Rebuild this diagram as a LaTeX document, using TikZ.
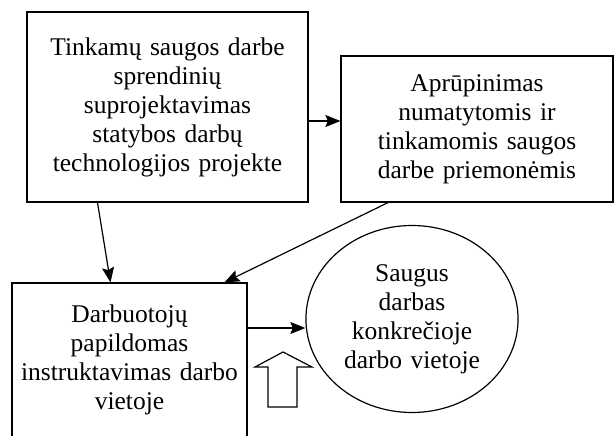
\documentclass[tikz,border=0pt]{standalone}
\usepackage{fontspec}
\setmainfont{Liberation Serif}
\usetikzlibrary{positioning, arrows.meta, shapes.geometric}
\tikzset{
  saugbox/.style   = {draw, line width=1.2pt, align=center, inner sep=2pt,
                      font=\fontsize{25.5}{29}\selectfont},
  saugoval/.style  = {saugbox, ellipse, inner sep=0pt},
  saugarrow/.style = {line width=1.2pt, -{Stealth[length=15pt,width=12pt,inset=2.5pt]}},
  saugblock/.style = {draw, line width=1.2pt, fill=white}
}
\begin{document}
\begin{tikzpicture}[x=1pt,y=-1pt]
  \useasboundingbox (0,0) rectangle (614,436);
  \node[saugbox, minimum width=281pt, minimum height=190pt, text width=272pt]
        (proj)  at (167.5,107) {Tinkamų saugos darbe\\ sprendinių\\ suprojektavimas\\
        statybos darbų\\ technologijos projekte};
  \node[saugbox, minimum width=272pt, minimum height=146pt, text width=262pt]
        (prie)  at (477,129)   {Aprūpinimas\\ numatytomis ir\\ tinkamomis saugos\\
        darbe priemonėmis};
  \node[saugbox, minimum width=235pt, minimum height=154pt, text width=228pt]
        (instr) at (129.5,360) {Darbuotojų\\ papildomas\\ instruktavimas darbo\\ vietoje};
  \node[saugoval, minimum width=205pt, minimum height=187pt, text width=150pt]
        (saug)  at (412,319)   {Saugus\\ darbas\\ konkrečioje\\ darbo vietoje};

  \draw[saugarrow] ([yshift=-14pt]proj.east) -- ([yshift=-14pt]proj.east -| prie.west);
  \draw[saugarrow] ([xshift=-70pt]proj.south) -- ([xshift=-19pt]instr.north);
  \draw[saugarrow] ([xshift=-89pt]prie.south) -- ([xshift=95pt]instr.north);
  \draw[saugarrow] ([yshift=32pt]instr.east) -- ([yshift=32pt]instr.east -| saug.west);

  % hollow up arrow
  \draw[saugblock] (268,407) -- (268,367) -- (255,367) -- (283,352) -- (312,367)
        -- (297,367) -- (297,407) -- cycle;
\end{tikzpicture}
\end{document}
